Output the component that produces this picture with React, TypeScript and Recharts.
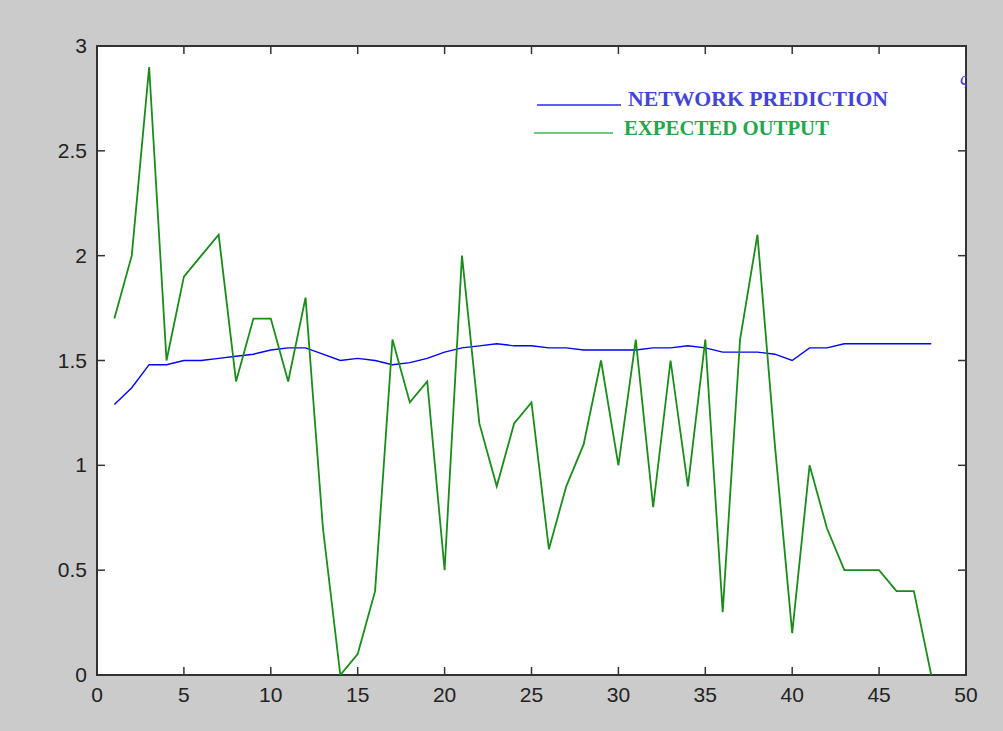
import { LineChart, Line, XAxis, YAxis } from "recharts";

const samples = [
  1, 2, 3, 4, 5, 6, 7, 8, 9, 10, 11, 12, 13, 14, 15, 16, 17, 18, 19, 20, 21, 22, 23, 24,
  25, 26, 27, 28, 29, 30, 31, 32, 33, 34, 35, 36, 37, 38, 39, 40, 41, 42, 43, 44, 45, 46, 47, 48,
];

const networkPrediction = [
  1.29, 1.37, 1.48, 1.48, 1.5, 1.5, 1.51, 1.52, 1.53, 1.55, 1.56, 1.56, 1.53, 1.5, 1.51, 1.5,
  1.48, 1.49, 1.51, 1.54, 1.56, 1.57, 1.58, 1.57, 1.57, 1.56, 1.56, 1.55, 1.55, 1.55, 1.55, 1.56,
  1.56, 1.57, 1.56, 1.54, 1.54, 1.54, 1.53, 1.5, 1.56, 1.56, 1.58, 1.58, 1.58, 1.58, 1.58, 1.58,
];

const expectedOutput = [
  1.7, 2.0, 2.9, 1.5, 1.9, 2.0, 2.1, 1.4, 1.7, 1.7, 1.4, 1.8, 0.7, 0.0, 0.1, 0.4,
  1.6, 1.3, 1.4, 0.5, 2.0, 1.2, 0.9, 1.2, 1.3, 0.6, 0.9, 1.1, 1.5, 1.0, 1.6, 0.8,
  1.5, 0.9, 1.6, 0.3, 1.6, 2.1, 1.1, 0.2, 1.0, 0.7, 0.5, 0.5, 0.5, 0.4, 0.4, 0.0,
];

const xTicks = [0, 5, 10, 15, 20, 25, 30, 35, 40, 45, 50];
const yTicks = [0, 0.5, 1, 1.5, 2, 2.5, 3];

const rows = samples.map((x, i) => ({
  x,
  prediction: networkPrediction[i],
  expected: expectedOutput[i],
}));

// layout of the matlab-style box
const W = 1003;
const H = 731;
const M = { top: 46, right: 37, bottom: 56, left: 97 };
const plotW = W - M.left - M.right;
const plotH = H - M.top - M.bottom;
const TICK = 8;
const frame = "#333";
const labelFont = '"Liberation Sans", Arial, sans-serif';

// ticks point inwards and are repeated on the opposite side, like matlab
function BottomTick(props: any) {
  const { x, y, payload } = props;
  return (
    <g>
      <line x1={x} y1={y} x2={x} y2={y - TICK} stroke={frame} strokeWidth={1.5} />
      <line x1={x} y1={y - plotH} x2={x} y2={y - plotH + TICK} stroke={frame} strokeWidth={1.5} />
      <text x={x} y={y + 27} textAnchor="middle" fill="#222" fontSize={21} fontFamily={labelFont}>
        {payload.value}
      </text>
    </g>
  );
}

function LeftTick(props: any) {
  const { x, y, payload } = props;
  return (
    <g>
      <line x1={x} y1={y} x2={x + TICK} y2={y} stroke={frame} strokeWidth={1.5} />
      <line x1={x + plotW} y1={y} x2={x + plotW - TICK} y2={y} stroke={frame} strokeWidth={1.5} />
      <text x={x - 10} y={y + 7} textAnchor="end" fill="#222" fontSize={21} fontFamily={labelFont}>
        {payload.value}
      </text>
    </g>
  );
}

export default function App() {
  return (
    <div
      style={{
        position: "fixed",
        left: 0,
        top: 0,
        width: W,
        height: H,
        background: "#cbcbcb",
      }}
    >
      <div
        style={{
          position: "absolute",
          left: M.left - 1,
          top: M.top - 1,
          width: plotW + 2,
          height: plotH + 2,
          background: "#ffffff",
          border: `2px solid ${frame}`,
          boxSizing: "border-box",
        }}
      />
      <div style={{ position: "absolute", left: 0, top: 0 }}>
        <LineChart
          width={W}
          height={H}
          data={rows}
          margin={{ top: M.top, right: M.right, bottom: 0, left: 0 }}
        >
          <XAxis
            dataKey="x"
            type="number"
            domain={[0, 50]}
            ticks={xTicks}
            height={M.bottom}
            tickSize={0}
            tickMargin={0}
            tick={<BottomTick />}
            axisLine={false}
            tickLine={false}
            allowDataOverflow
          />
          <YAxis
            type="number"
            domain={[0, 3]}
            ticks={yTicks}
            width={M.left}
            tickSize={0}
            tickMargin={0}
            tick={<LeftTick />}
            axisLine={false}
            tickLine={false}
            allowDataOverflow
          />
          <Line
            dataKey="prediction"
            type="linear"
            stroke="#0000ff"
            strokeWidth={1.4}
            dot={false}
            isAnimationActive={false}
          />
          <Line
            dataKey="expected"
            type="linear"
            stroke="#1a8c1a"
            strokeWidth={1.8}
            dot={false}
            isAnimationActive={false}
          />
        </LineChart>
      </div>
      <svg
        width={W}
        height={H}
        style={{ position: "absolute", left: 0, top: 0, pointerEvents: "none" }}
      >
        <line x1={537} y1={105} x2={621} y2={105} stroke="#2a2aee" strokeWidth={1.5} />
        <text
          x={628}
          y={106}
          fontSize={20}
          fontWeight="bold"
          fontFamily='"Liberation Serif", "Times New Roman", serif'
          fill="#4343dc"
          textLength={260}
          lengthAdjust="spacingAndGlyphs"
        >
          NETWORK PREDICTION
        </text>
        <line x1={534} y1={133} x2={613} y2={133} stroke="#3cb95a" strokeWidth={1.5} />
        <text
          x={624}
          y={135}
          fontSize={20}
          fontWeight="bold"
          fontFamily='"Liberation Serif", "Times New Roman", serif'
          fill="#22a84a"
          textLength={205}
          lengthAdjust="spacingAndGlyphs"
        >
          EXPECTED OUTPUT
        </text>
        <text x={960} y={85} fontSize={18} fontFamily='"Liberation Serif", serif' fill="#3a3ae0">
          ς
        </text>
      </svg>
    </div>
  );
}
